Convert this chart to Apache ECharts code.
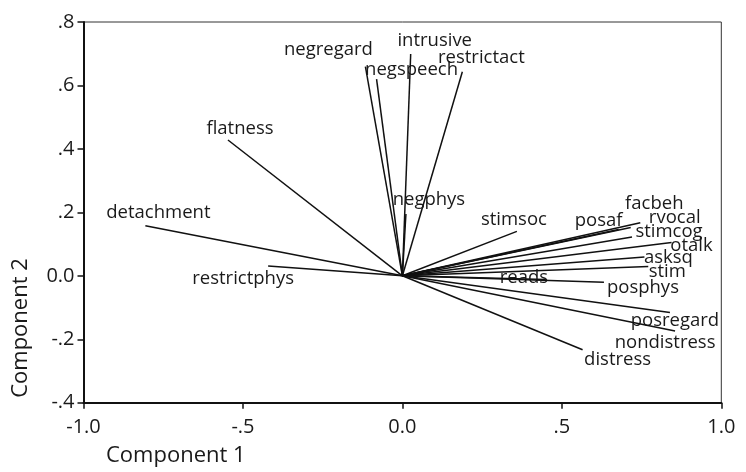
<!DOCTYPE html>
<html>
<head>
<meta charset="utf-8">
<script src="https://cdn.jsdelivr.net/npm/echarts@6/dist/echarts.min.js"></script>
<style>html,body{margin:0;padding:0;background:#fff}#c{width:746px;height:472px}</style>
</head>
<body>
<div id="c"></div>
<script>
const variables = ['detachment','flatness','restrictphys','negregard','negspeech','intrusive','restrictact','negphys','stimsoc','posaf','facbeh','rvocal','stimcog','otalk','asksq','stim','reads','posphys','posregard','nondistress','distress'];
const component1 = [-0.806,-0.547,-0.421,-0.116,-0.081,0.026,0.188,0.011,0.359,0.678,0.746,0.716,0.720,0.844,0.759,0.771,0.450,0.632,0.839,0.855,0.565];
const component2 = [0.158,0.428,0.031,0.659,0.620,0.699,0.643,0.195,0.140,0.146,0.167,0.152,0.122,0.105,0.059,0.029,-0.012,-0.020,-0.116,-0.174,-0.233];
const xAxisTitle = 'Component 1';
const yAxisTitle = 'Component 2';

// label placement (pixel offsets of label centre from the line end)
const labelOffset = {
  detachment:[13,-13], flatness:[12,-11], restrictphys:[-25,13], negregard:[-37,-17],
  negspeech:[35,-9], intrusive:[24,-13], restrictact:[19,-14], negphys:[23,-14],
  stimsoc:[-3,-12], posaf:[-20,-9], facbeh:[14,-19], rvocal:[44,-10], stimcog:[37,-5],
  otalk:[20,3], asksq:[24,1], stim:[19,5], reads:[-22,-2], posphys:[39,6],
  posregard:[5,8], nondistress:[-10,12], distress:[35,10]
};

const FONT = '"Open Sans", "Noto Sans", sans-serif';
function fmt(v){
  if (Math.abs(v) < 1e-9) return '0.0';
  let s = v.toFixed(1);
  return s.replace(/^(-?)0\./, '$1.');
}

const data = variables.map((n,i)=>[component1[i], component2[i], n]);

const chart = echarts.init(document.getElementById('c'), null, {renderer:'canvas'});
chart.setOption({
  animation:false,
  backgroundColor:'#fff',
  grid:{left:83.5, right:24.7, top:22, bottom:69.3, show:true, borderColor:'#333', borderWidth:1, backgroundColor:'transparent'},
  xAxis:{type:'value', min:-1, max:1, interval:0.5,
    axisLine:{show:true, onZero:false, lineStyle:{color:'#111', width:2}},
    axisTick:{show:true, length:6, lineStyle:{color:'#111', width:1.5}},
    axisLabel:{formatter:fmt, color:'#1a1a1a', fontSize:20, fontFamily:FONT, margin:15},
    splitLine:{show:false}},
  yAxis:{type:'value', min:-0.4, max:0.8, interval:0.2,
    axisLine:{show:true, onZero:false, lineStyle:{color:'#111', width:2}},
    axisTick:{show:true, length:6, lineStyle:{color:'#111', width:1.5}},
    axisLabel:{formatter:fmt, color:'#1a1a1a', fontSize:20, fontFamily:FONT, margin:9},
    splitLine:{show:false}},
  graphic:[
    {type:'text', left:106, top:445, style:{text:xAxisTitle, fill:'#1a1a1a', font:'22px '+FONT}},
    {type:'text', x:32, y:328, rotation:Math.PI/2, style:{text:yAxisTitle, fill:'#1a1a1a', font:'22px '+FONT, align:'center', verticalAlign:'bottom'}}
  ],
  series:[{
    type:'custom',
    data:data,
    encode:{x:0, y:1},
    clip:false,
    renderItem:function(params, api){
      const o = api.coord([0,0]);
      const p = api.coord([api.value(0), api.value(1)]);
      const name = variables[params.dataIndex];
      const off = labelOffset[name] || [0,-12];
      return {type:'group', children:[
        {type:'line', shape:{x1:o[0], y1:o[1], x2:p[0], y2:p[1]}, style:{stroke:'#111', lineWidth:1.5}},
        {type:'text', style:{text:name, x:p[0]+off[0], y:p[1]+off[1], align:'center', verticalAlign:'middle', fill:'#1a1a1a', font:'18.5px '+FONT}}
      ]};
    }
  }]
});
</script>
</body>
</html>
